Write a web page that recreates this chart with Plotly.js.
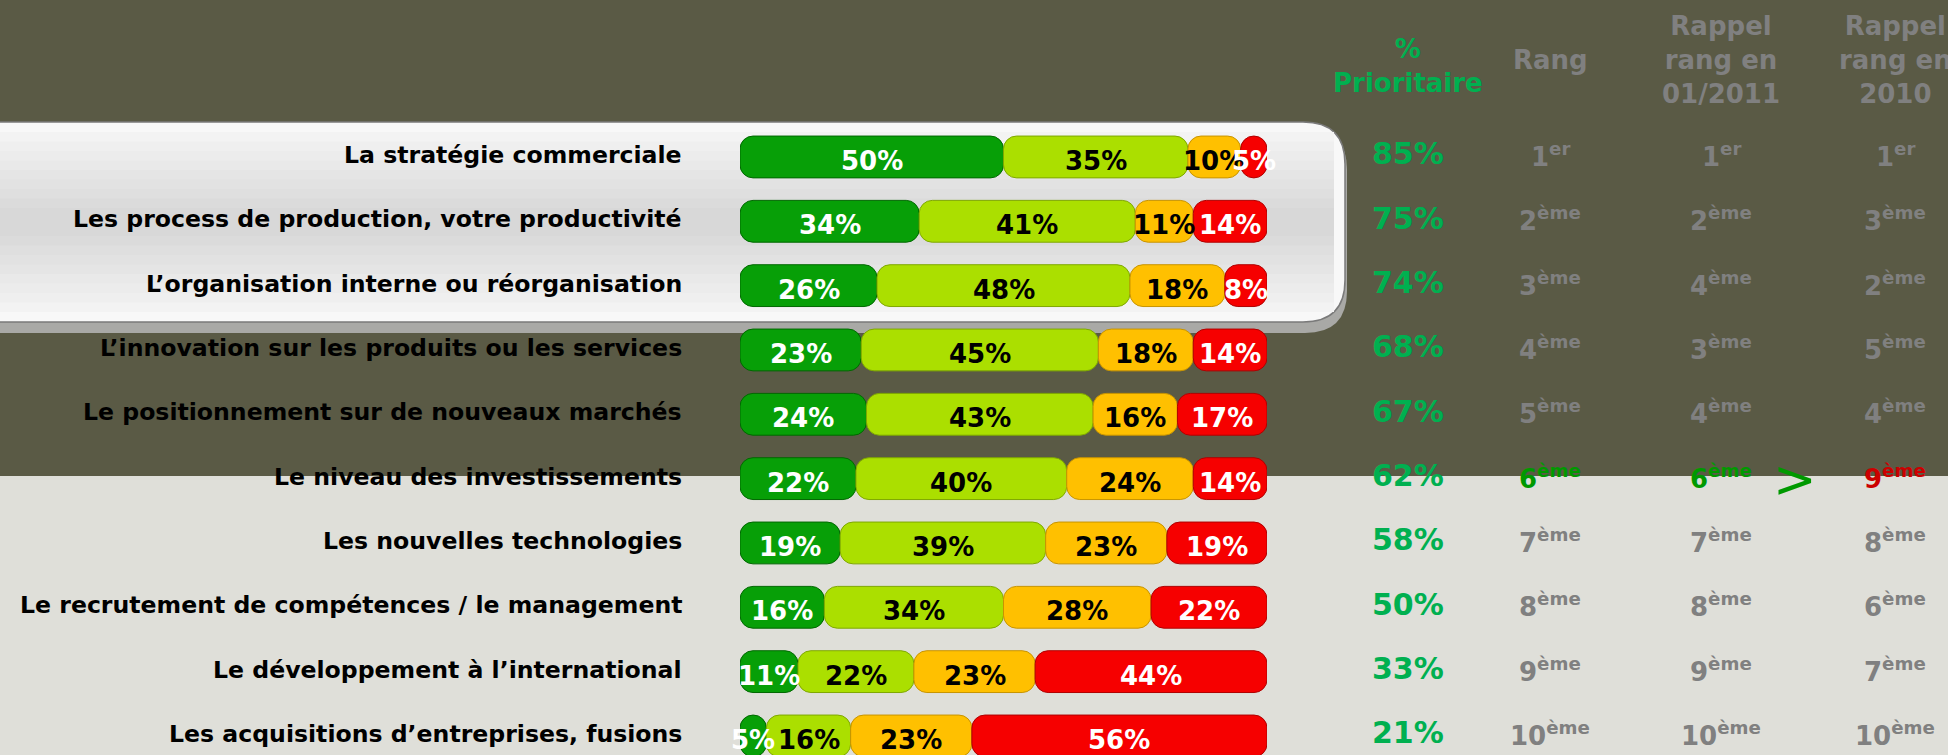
<!DOCTYPE html>
<html>
<head>
<meta charset="utf-8">
<script src="https://cdn.plot.ly/plotly-3.0.1.min.js"></script>
<style>
html,body{margin:0;padding:0;background:#dfdfd9;}
#chart{width:1948px;height:755px;}
</style>
</head>
<body>
<div id="chart"></div>
<script>
// ---------- DATA ----------
const categories = [
  "La stratégie commerciale",
  "Les process de production, votre productivité",
  "L’organisation interne ou réorganisation",
  "L’innovation sur les produits ou les services",
  "Le positionnement sur de nouveaux marchés",
  "Le niveau des investissements",
  "Les nouvelles technologies",
  "Le recrutement de compétences / le management",
  "Le développement à l’international",
  "Les acquisitions d’entreprises, fusions"
];
const tresPrioritaire    = [50, 34, 26, 23, 24, 22, 19, 16, 11, 5];
const plutotPrioritaire  = [35, 41, 48, 45, 43, 40, 39, 34, 22, 16];
const peuPrioritaire     = [10, 11, 18, 18, 16, 24, 23, 28, 23, 23];
const pasPrioritaire     = [5, 14, 8, 14, 17, 14, 19, 22, 44, 56];
const pctPrioritaire     = [85, 75, 74, 68, 67, 62, 58, 50, 33, 21];
const rang               = [1, 2, 3, 4, 5, 6, 7, 8, 9, 10];
const rang2011           = [1, 2, 4, 3, 4, 6, 7, 8, 9, 10];
const rang2010           = [1, 3, 2, 5, 4, 9, 8, 6, 7, 10];
const headers = ["%<br>Prioritaire", "Rang", "Rappel<br>rang en<br>01/2011", "Rappel<br>rang en<br>2010"];

// ---------- STYLE ----------
const W = 1948, H = 755;
const FONT = "Tahoma, 'DejaVu Sans', sans-serif";
const segColors = ["#079f07", "#abdf00", "#ffc000", "#f60000"];
const segLines  = ["#006800", "#7fa800", "#c89400", "#b00000"];
const segText   = ["#ffffff", "#000000", "#000000", "#ffffff"];
const GREEN = "#00b050", GREY = "#808080", DARKBG = "#5a5a45", LIGHTBG = "#dfdfd9";
const colX = [1408, 1550, 1721, 1895];
const labelRight = 684;

const series = [tresPrioritaire, plutotPrioritaire, peuPrioritaire, pasPrioritaire];
const bases = series.map((s, k) => s.map((v, i) => {
  let b = 0; for (let j = 0; j < k; j++) b += series[j][i]; return b;
}));

const traces = series.map((s, k) => ({
  type: "bar",
  orientation: "h",
  y: categories,
  x: s,
  base: bases[k],
  width: 0.65,
  marker: {color: segColors[k], cornerradius: 13, line: {width: 1, color: segLines[k]}},
  textposition: "none",
  hoverinfo: "skip"
}));

function rankTxt(n) { return n === 1 ? n + "<sup>er</sup>" : n + "<sup>ème</sup>"; }

const ann = [];
// segment value labels (centred on each segment, via the x axis)
series.forEach((s, k) => s.forEach((v, i) => ann.push({
  xref: "x", yref: "y", x: bases[k][i] + v / 2, y: categories[i], xanchor: "center", yanchor: "middle",
  yshift: -4, text: v + "%", showarrow: false,
  font: {family: FONT, size: 26, color: segText[k], weight: "bold"}
})));
// row labels
categories.forEach((c, i) => ann.push({
  xref: "paper", yref: "y", x: labelRight / W, y: c, xanchor: "right", yanchor: "middle", yshift: 2,
  text: c, showarrow: false, font: {family: FONT, size: 23.6, color: "#000", weight: "bold"}
}));
// headers
const headerY = [66, 60, 60, 60];
headers.forEach((h, k) => ann.push({
  xref: "paper", yref: "paper", x: colX[k] / W, y: 1 - headerY[k] / H, xanchor: "center", yanchor: "middle",
  text: h, showarrow: false, align: "center",
  font: {family: FONT, size: 26, color: k === 0 ? GREEN : GREY, weight: "bold"}
}));
// columns
categories.forEach((c, i) => {
  const improved = (rang2010[i] - rang[i]) >= 3;
  ann.push({xref: "paper", yref: "y", x: colX[0] / W, y: c, xanchor: "center", yanchor: "middle", yshift: 3,
    text: pctPrioritaire[i] + "%", showarrow: false,
    font: {family: FONT, size: 30, color: GREEN, weight: "bold"}});
  [rang, rang2011, rang2010].forEach((arr, k) => {
    let col = GREY;
    if (improved) col = k < 2 ? "#009900" : "#cc0000";
    ann.push({xref: "paper", yref: "y", x: colX[k + 1] / W, y: c, xanchor: "center", yanchor: "middle", yshift: 2,
      text: rankTxt(arr[i]), showarrow: false,
      font: {family: FONT, size: 26, color: col, weight: "bold"}});
  });
  if (improved) {
    ann.push({xref: "paper", yref: "y", x: 1795 / W, y: c, xanchor: "center", yanchor: "middle",
      text: "&gt;", showarrow: false, font: {family: "'DejaVu Sans', sans-serif", size: 52, color: "#009900"}});
  }
});

// decorative shapes (background panels)
function boxPath(top, bottom, left, right, r) {
  return `M ${left},${-top} L ${right - r},${-top} Q ${right},${-top} ${right},${-(top + r)} ` +
         `L ${right},${-(bottom - r)} Q ${right},${-bottom} ${right - r},${-bottom} L ${left},${-bottom} Z`;
}
const pix = {xref: "paper", yref: "paper", xsizemode: "pixel", ysizemode: "pixel", xanchor: 0, yanchor: 1, layer: "below"};
const shapes = [
  {type: "rect", xref: "paper", yref: "paper", x0: 0, x1: 1, y0: 1 - 476 / H, y1: 1, fillcolor: DARKBG, line: {width: 0}, layer: "below"},
  Object.assign({type: "path", path: boxPath(128, 333, -30, 1347, 42), fillcolor: "#a9a9a6", line: {width: 0}}, pix),
  Object.assign({type: "path", path: boxPath(122, 322, -30, 1345, 42), fillcolor: "#f8f8f8", line: {color: "#7a7a7a", width: 1.5}}, pix)
];
const nb = 9;
for (let k = 0; k < nb; k++) {
  const t = 132 + k * 9.5, b = 312 - k * 9.5;
  const g = Math.round(246 - (246 - 216) * (k + 1) / nb);
  const hex = "#" + g.toString(16).repeat(3);
  shapes.push(Object.assign({type: "rect", x0: -30, x1: 1334, y0: -t, y1: -b, fillcolor: hex, line: {width: 0}}, pix));
}

const layout = {
  width: W, height: H,
  margin: {l: 0, r: 0, t: 0, b: 0, pad: 0},
  paper_bgcolor: LIGHTBG, plot_bgcolor: "rgba(0,0,0,0)",
  barmode: "overlay",
  showlegend: false,
  xaxis: {domain: [740 / W, 1267 / W], range: [0, 100], visible: false, fixedrange: true},
  yaxis: {type: "category", categoryorder: "array", categoryarray: categories,
          range: [9.296, -2.44], visible: false, fixedrange: true},
  annotations: ann,
  shapes: shapes,
  font: {family: FONT}
};

Plotly.newPlot("chart", traces, layout, {displayModeBar: false});
</script>
</body>
</html>
